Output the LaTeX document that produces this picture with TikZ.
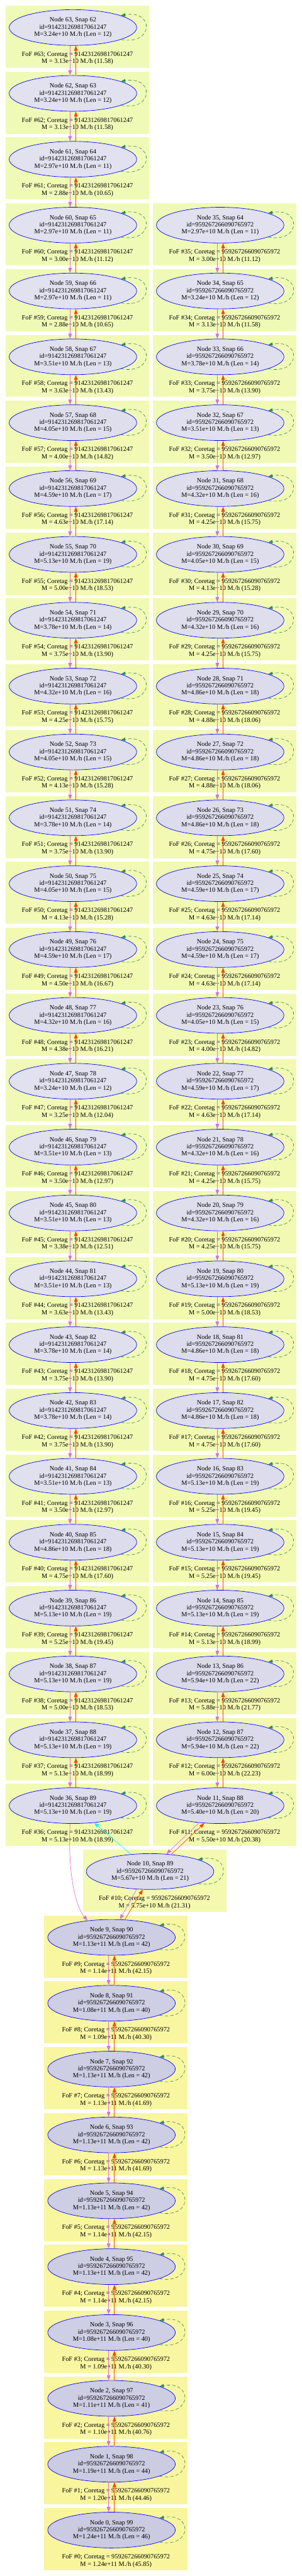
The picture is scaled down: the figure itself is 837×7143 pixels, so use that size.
\documentclass[tikz,border=0pt]{standalone}
\usepackage{fontspec}
\setmainfont{Liberation Serif}
\usetikzlibrary{arrows.meta,shapes.geometric}
\definecolor{clo}{HTML}{F0FAB7}
\definecolor{chi}{HTML}{F9F59C}
\definecolor{elo}{HTML}{E1E1EF}
\definecolor{ehi}{HTML}{CACAE1}
\definecolor{pinkc}{HTML}{DA70D6}
\definecolor{orangec}{HTML}{FF4500}
\definecolor{loopc}{HTML}{2E8B57}
\definecolor{cyanc}{HTML}{00FFFF}
\definecolor{borderc}{HTML}{0000FF}
\newcommand\idA{914231269817061247}
\newcommand\idB{959267266090765972}
\tikzset{
  halo/.style={ellipse, draw=borderc, line width=1.2pt, minimum width=353.6pt,
    minimum height=99.2pt, inner sep=0pt, align=center,
    font=\fontsize{18}{19.8}\selectfont},
  foflabel/.style={align=center, inner sep=0pt, font=\fontsize{18}{20.3}\selectfont},
  desc/.style={draw=pinkc, line width=1.2pt, -{Triangle[length=14pt,width=10pt]}},
  prog/.style={draw=orangec, line width=1.2pt, -{Triangle[length=14pt,width=10pt]}},
  cyanedge/.style={draw=cyanc, line width=1.2pt, -{Triangle[length=14pt,width=10pt]}},
  selfloop/.style={draw=loopc, line width=1.1pt, dash pattern=on 9pt off 6pt,
    -{Triangle[length=12pt,width=9pt]}}
}
% #1 node, #2 snap, #3 x, #4 rank, #5 M, #6 Len, #7 FoF M, #8 ratio, #9 id
\newcommand\drawhalo[9]{%
  \pgfmathsetmacro\yy{76.4+182.61*#4}%
  \pgfmathtruncatemacro\ct{100*(#8-10.65)/35.2}%
  \pgfmathtruncatemacro\et{100*(#6-11)/35}%
  \fill[chi!\ct!clo] (#3-186.5,\yy-60.7) rectangle (#3+211.1,\yy+111.8);
  \node[foflabel] (f#1) at (#3+12.3,\yy+85.5) {FoF \##1; Coretag = #9\\M = #7 M./h (#8)};
  \node[halo, fill=ehi!\et!elo] (n#1) at (#3,\yy) {Node #1, Snap #2\\id=#9\\M=#5 M./h (Len = #6)};
  \draw[selfloop] (n#1.-14) .. controls ([xshift=92pt,yshift=-17pt]n#1.-14) and ([xshift=92pt,yshift=17pt]n#1.14) .. (n#1.14);
}
\newcommand\chainedge[2]{%
  \draw[desc] ([xshift=-8pt]n#1.south) -- ([xshift=-8pt]n#2.north);
  \draw[prog] ([xshift=8pt]n#2.north) -- ([xshift=8pt]n#1.south);
}
\begin{document}
\begin{tikzpicture}[x=1pt,y=-1pt]
\useasboundingbox (0,0) rectangle (837,7143);
% left column
\drawhalo{63}{62}{202.2}{0}{3.24e+10}{12}{3.13e+10}{11.58}{\idA}
\drawhalo{62}{63}{202.2}{1}{3.24e+10}{12}{3.13e+10}{11.58}{\idA}
\drawhalo{61}{64}{202.2}{2}{2.97e+10}{11}{2.88e+10}{10.65}{\idA}
\drawhalo{60}{65}{202.2}{3}{2.97e+10}{11}{3.00e+10}{11.12}{\idA}
\drawhalo{59}{66}{202.2}{4}{2.97e+10}{11}{2.88e+10}{10.65}{\idA}
\drawhalo{58}{67}{202.2}{5}{3.51e+10}{13}{3.63e+10}{13.43}{\idA}
\drawhalo{57}{68}{202.2}{6}{4.05e+10}{15}{4.00e+10}{14.82}{\idA}
\drawhalo{56}{69}{202.2}{7}{4.59e+10}{17}{4.63e+10}{17.14}{\idA}
\drawhalo{55}{70}{202.2}{8}{5.13e+10}{19}{5.00e+10}{18.53}{\idA}
\drawhalo{54}{71}{202.2}{9}{3.78e+10}{14}{3.75e+10}{13.90}{\idA}
\drawhalo{53}{72}{202.2}{10}{4.32e+10}{16}{4.25e+10}{15.75}{\idA}
\drawhalo{52}{73}{202.2}{11}{4.05e+10}{15}{4.13e+10}{15.28}{\idA}
\drawhalo{51}{74}{202.2}{12}{3.78e+10}{14}{3.75e+10}{13.90}{\idA}
\drawhalo{50}{75}{202.2}{13}{4.05e+10}{15}{4.13e+10}{15.28}{\idA}
\drawhalo{49}{76}{202.2}{14}{4.59e+10}{17}{4.50e+10}{16.67}{\idA}
\drawhalo{48}{77}{202.2}{15}{4.32e+10}{16}{4.38e+10}{16.21}{\idA}
\drawhalo{47}{78}{202.2}{16}{3.24e+10}{12}{3.25e+10}{12.04}{\idA}
\drawhalo{46}{79}{202.2}{17}{3.51e+10}{13}{3.50e+10}{12.97}{\idA}
\drawhalo{45}{80}{202.2}{18}{3.51e+10}{13}{3.38e+10}{12.51}{\idA}
\drawhalo{44}{81}{202.2}{19}{3.51e+10}{13}{3.63e+10}{13.43}{\idA}
\drawhalo{43}{82}{202.2}{20}{3.78e+10}{14}{3.75e+10}{13.90}{\idA}
\drawhalo{42}{83}{202.2}{21}{3.78e+10}{14}{3.75e+10}{13.90}{\idA}
\drawhalo{41}{84}{202.2}{22}{3.51e+10}{13}{3.50e+10}{12.97}{\idA}
\drawhalo{40}{85}{202.2}{23}{4.86e+10}{18}{4.75e+10}{17.60}{\idA}
\drawhalo{39}{86}{202.2}{24}{5.13e+10}{19}{5.25e+10}{19.45}{\idA}
\drawhalo{38}{87}{202.2}{25}{5.13e+10}{19}{5.00e+10}{18.53}{\idA}
\drawhalo{37}{88}{202.2}{26}{5.13e+10}{19}{5.13e+10}{18.99}{\idA}
\drawhalo{36}{89}{202.2}{27}{5.13e+10}{19}{5.13e+10}{18.99}{\idA}
% right column
\drawhalo{35}{64}{610.3}{3}{2.97e+10}{11}{3.00e+10}{11.12}{\idB}
\drawhalo{34}{65}{610.3}{4}{3.24e+10}{12}{3.13e+10}{11.58}{\idB}
\drawhalo{33}{66}{610.3}{5}{3.78e+10}{14}{3.75e+10}{13.90}{\idB}
\drawhalo{32}{67}{610.3}{6}{3.51e+10}{13}{3.50e+10}{12.97}{\idB}
\drawhalo{31}{68}{610.3}{7}{4.32e+10}{16}{4.25e+10}{15.75}{\idB}
\drawhalo{30}{69}{610.3}{8}{4.05e+10}{15}{4.13e+10}{15.28}{\idB}
\drawhalo{29}{70}{610.3}{9}{4.32e+10}{16}{4.25e+10}{15.75}{\idB}
\drawhalo{28}{71}{610.3}{10}{4.86e+10}{18}{4.88e+10}{18.06}{\idB}
\drawhalo{27}{72}{610.3}{11}{4.86e+10}{18}{4.88e+10}{18.06}{\idB}
\drawhalo{26}{73}{610.3}{12}{4.86e+10}{18}{4.75e+10}{17.60}{\idB}
\drawhalo{25}{74}{610.3}{13}{4.59e+10}{17}{4.63e+10}{17.14}{\idB}
\drawhalo{24}{75}{610.3}{14}{4.59e+10}{17}{4.63e+10}{17.14}{\idB}
\drawhalo{23}{76}{610.3}{15}{4.05e+10}{15}{4.00e+10}{14.82}{\idB}
\drawhalo{22}{77}{610.3}{16}{4.59e+10}{17}{4.63e+10}{17.14}{\idB}
\drawhalo{21}{78}{610.3}{17}{4.32e+10}{16}{4.25e+10}{15.75}{\idB}
\drawhalo{20}{79}{610.3}{18}{4.32e+10}{16}{4.25e+10}{15.75}{\idB}
\drawhalo{19}{80}{610.3}{19}{5.13e+10}{19}{5.00e+10}{18.53}{\idB}
\drawhalo{18}{81}{610.3}{20}{4.86e+10}{18}{4.75e+10}{17.60}{\idB}
\drawhalo{17}{82}{610.3}{21}{4.86e+10}{18}{4.75e+10}{17.60}{\idB}
\drawhalo{16}{83}{610.3}{22}{5.13e+10}{19}{5.25e+10}{19.45}{\idB}
\drawhalo{15}{84}{610.3}{23}{5.13e+10}{19}{5.25e+10}{19.45}{\idB}
\drawhalo{14}{85}{610.3}{24}{5.13e+10}{19}{5.13e+10}{18.99}{\idB}
\drawhalo{13}{86}{610.3}{25}{5.94e+10}{22}{5.88e+10}{21.77}{\idB}
\drawhalo{12}{87}{610.3}{26}{5.94e+10}{22}{6.00e+10}{22.23}{\idB}
\drawhalo{11}{88}{610.3}{27}{5.40e+10}{20}{5.50e+10}{20.38}{\idB}
% merged trunk
\drawhalo{10}{89}{415.9}{28}{5.67e+10}{21}{5.75e+10}{21.31}{\idB}
\drawhalo{9}{90}{309.1}{29}{1.13e+11}{42}{1.14e+11}{42.15}{\idB}
\drawhalo{8}{91}{309.1}{30}{1.08e+11}{40}{1.09e+11}{40.30}{\idB}
\drawhalo{7}{92}{309.1}{31}{1.13e+11}{42}{1.13e+11}{41.69}{\idB}
\drawhalo{6}{93}{309.1}{32}{1.13e+11}{42}{1.13e+11}{41.69}{\idB}
\drawhalo{5}{94}{309.1}{33}{1.13e+11}{42}{1.14e+11}{42.15}{\idB}
\drawhalo{4}{95}{309.1}{34}{1.13e+11}{42}{1.14e+11}{42.15}{\idB}
\drawhalo{3}{96}{309.1}{35}{1.08e+11}{40}{1.09e+11}{40.30}{\idB}
\drawhalo{2}{97}{309.1}{36}{1.11e+11}{41}{1.10e+11}{40.76}{\idB}
\drawhalo{1}{98}{309.1}{37}{1.19e+11}{44}{1.20e+11}{44.46}{\idB}
\drawhalo{0}{99}{309.1}{38}{1.24e+11}{46}{1.24e+11}{45.85}{\idB}
% chain edges
\foreach \k in {63,62,...,37} {\pgfmathtruncatemacro\j{\k-1}\chainedge{\k}{\j}}
\foreach \k in {35,34,...,12} {\pgfmathtruncatemacro\j{\k-1}\chainedge{\k}{\j}}
\foreach \k in {9,8,...,1} {\pgfmathtruncatemacro\j{\k-1}\chainedge{\k}{\j}}
% merger edges
\draw[desc] (n11.-141.1) -- (n10.47.7);
\draw[prog] (n10.39.9) -- (n11.-132.1);
\draw[cyanedge] (n10.138.7) -- (n36.-39.4);
\draw[desc] ([xshift=-8pt]n36.south) .. controls (188,5180) and (205,5280) .. (n9.145.4);
\draw[desc] (n10.-127.4) -- (n9.65.1);
\draw[prog] (n9.53.6) -- (n10.-112.5);
\end{tikzpicture}
\end{document}
